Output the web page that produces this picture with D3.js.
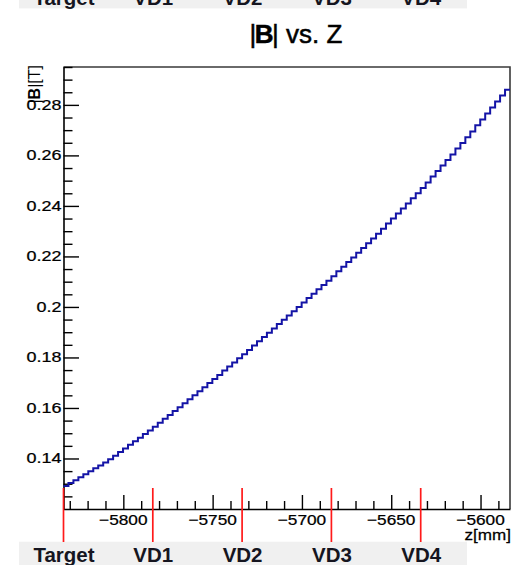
<!DOCTYPE html>
<html>
<head>
<meta charset="utf-8">
<script src="https://cdn.jsdelivr.net/npm/d3@7"></script>
<style>
  body { margin: 0; background: #fff; }
  svg { display: block; }
  text { font-family: "Liberation Sans", Arial, Helvetica, sans-serif; }
</style>
</head>
<body>
<svg id="chart" width="525" height="565"></svg>
<script>
// Field magnitude |B| [T] along z [mm], one value per histogram bin
const zRange = [-5833.5, -5583.5];
const bValues = [
  0.1291, 0.1303, 0.1314, 0.1326, 0.1338, 0.1349, 0.1361, 0.1372, 0.1384, 0.1397,
  0.1411, 0.1426, 0.1440, 0.1454, 0.1468, 0.1482, 0.1497, 0.1511, 0.1526, 0.1541,
  0.1557, 0.1572, 0.1588, 0.1603, 0.1619, 0.1635, 0.1650, 0.1666, 0.1682, 0.1699,
  0.1715, 0.1731, 0.1748, 0.1764, 0.1780, 0.1797, 0.1813, 0.1830, 0.1847, 0.1864,
  0.1881, 0.1898, 0.1915, 0.1932, 0.1949, 0.1966, 0.1983, 0.2000, 0.2018, 0.2035,
  0.2052, 0.2070, 0.2087, 0.2104, 0.2122, 0.2141, 0.2159, 0.2178, 0.2196, 0.2215,
  0.2233, 0.2252, 0.2271, 0.2290, 0.2310, 0.2330, 0.2350, 0.2370, 0.2390, 0.2410,
  0.2430, 0.2450, 0.2471, 0.2493, 0.2516, 0.2538, 0.2560, 0.2582, 0.2604, 0.2627,
  0.2649, 0.2672, 0.2695, 0.2719, 0.2742, 0.2766, 0.2790, 0.2813, 0.2837, 0.2860
];
const yRange = [0.12, 0.295];

// Detector stations marked below the axis
const stationNames = ["Target", "VD1", "VD2", "VD3", "VD4"];
const stationZ = [-5833.5, -5783.5, -5733.5, -5683.5, -5633.5];

// Axis ticks and labels
const xMajorTicks = [-5800, -5750, -5700, -5650, -5600];
const xTickLabels = ["\u22125800", "\u22125750", "\u22125700", "\u22125650", "\u22125600"];
const yMajorTicks = [0.14, 0.16, 0.18, 0.20, 0.22, 0.24, 0.26, 0.28];
const yTickLabels = ["0.14", "0.16", "0.18", "0.2", "0.22", "0.24", "0.26", "0.28"];
const xMinorStep = 10;
const yMinorStep = 0.005;

const svg = d3.select("#chart");
const frame = { left: 63.5, right: 510, top: 67, bottom: 509 };

const x = d3.scaleLinear().domain(zRange).range([frame.left, frame.right]);
const y = d3.scaleLinear().domain(yRange).range([frame.bottom, frame.top]);

// Grey station bands (one at the bottom, its twin cut off at the top edge)
const band = { x: 19, w: 448, h: 24.3 };
const bandTops = [541.7, 541.7 - 557.6];
bandTops.forEach(top => {
  svg.append("rect")
    .attr("x", band.x).attr("y", top)
    .attr("width", band.w).attr("height", band.h)
    .attr("fill", "#f0f0f0");
  svg.append("g").selectAll("text")
    .data(stationNames)
    .join("text")
    .attr("x", (d, i) => x(stationZ[i]) + 0.5)
    .attr("y", top + 20.6)
    .attr("text-anchor", "middle")
    .attr("font-size", 20.5)
    .attr("font-weight", "bold")
    .attr("fill", "#151520")
    .text(d => d);
});

// Title
const title = svg.append("text")
  .attr("x", 296).attr("y", 43)
  .attr("text-anchor", "middle")
  .attr("font-size", 26)
  .attr("fill", "#000")
  .attr("stroke", "#000")
  .attr("stroke-width", 0.5);
title.append("tspan").text("|");
title.append("tspan").attr("dx", -1.5).attr("font-weight", "bold").text("B");
title.append("tspan").attr("dx", -1.5).text("|");
title.append("tspan").text(" vs. Z");

// Frame top / right
svg.append("path")
  .attr("d", `M${frame.left},${frame.top}H${frame.right}V${frame.bottom}`)
  .attr("fill", "none").attr("stroke", "#3a3a3a").attr("stroke-width", 1.6);

// Minor tick values
const xMinor = d3.range(-5830, zRange[1] + 0.01, xMinorStep).filter(v => v % 50 !== 0);
const yMinor = d3.range(0, 36).map(k => +(yRange[0] + k * yMinorStep).toFixed(3))
  .filter(v => v <= yRange[1] && Math.round(v * 1000) % 20 !== 0);

// X axis: ticks point up into the plot
const gx = svg.append("g").attr("transform", `translate(0,${frame.bottom})`);
gx.call(d3.axisBottom(x).tickValues(xMajorTicks).tickSizeInner(-14).tickSizeOuter(0).tickFormat(""));
gx.append("g").call(d3.axisBottom(x).tickValues(xMinor).tickSizeInner(-8).tickSizeOuter(0).tickFormat(""))
  .select(".domain").remove();
gx.selectAll(".domain").attr("stroke", "#000").attr("stroke-width", 1.6);
gx.selectAll(".tick line").attr("stroke", "#000").attr("stroke-width", 1.4);
gx.selectAll(".xlab")
  .data(xMajorTicks)
  .join("text")
  .attr("class", "xlab")
  .attr("transform", d => `translate(${x(d)},16) scale(1.15,1)`)
  .attr("text-anchor", "middle")
  .attr("font-size", 15)
  .attr("fill", "#000")
  .attr("stroke", "#000")
  .attr("stroke-width", 0.25)
  .text((d, i) => xTickLabels[i]);
svg.append("text")
  .attr("transform", `translate(${frame.right + 1},540) scale(1.14,1)`)
  .attr("text-anchor", "end")
  .attr("font-size", 15)
  .attr("fill", "#000")
  .attr("stroke", "#000")
  .attr("stroke-width", 0.25)
  .text("z[mm]");

// Y axis: ticks point right into the plot
const gy = svg.append("g").attr("transform", `translate(${frame.left},0)`);
gy.call(d3.axisLeft(y).tickValues(yMajorTicks).tickSizeInner(-15.5).tickSizeOuter(0).tickFormat(""));
gy.append("g").call(d3.axisLeft(y).tickValues(yMinor).tickSizeInner(-9).tickSizeOuter(0).tickFormat(""))
  .select(".domain").remove();
gy.selectAll(".domain").attr("stroke", "#000").attr("stroke-width", 1.6);
gy.selectAll(".tick line").attr("stroke", "#000").attr("stroke-width", 1.4);
gy.selectAll(".ylab")
  .data(yMajorTicks)
  .join("text")
  .attr("class", "ylab")
  .attr("transform", d => `translate(-2,${y(d) + 5}) scale(1.24,1)`)
  .attr("text-anchor", "end")
  .attr("font-size", 14.5)
  .attr("fill", "#000")
  .attr("stroke", "#000")
  .attr("stroke-width", 0.25)
  .text((d, i) => yTickLabels[i]);

// Y axis title, rotated and pinned to the top of the axis
const yTitle = svg.append("text")
  .attr("transform", `translate(40,65) rotate(-90)`)
  .attr("text-anchor", "end")
  .attr("font-size", 16)
  .attr("fill", "#000");
yTitle.append("tspan").text("|");
yTitle.append("tspan").attr("font-weight", "bold").text("B");
yTitle.append("tspan").text("|[T]");

// Histogram outline as a step line over the bin edges
const nBins = bValues.length;
const binW = (zRange[1] - zRange[0]) / nBins;
const pts = bValues.map((v, i) => [zRange[0] + i * binW, v]);
pts.push([zRange[1], bValues[nBins - 1]]);
const step = d3.line()
  .x(d => x(d[0]))
  .y(d => y(d[1]))
  .curve(d3.curveStepAfter);
svg.append("path")
  .datum(pts)
  .attr("d", step)
  .attr("fill", "none")
  .attr("stroke", "#1414a6")
  .attr("stroke-width", 2);

// Station markers
svg.append("g").selectAll("line")
  .data(stationZ)
  .join("line")
  .attr("x1", d => x(d)).attr("x2", d => x(d))
  .attr("y1", 488).attr("y2", 542)
  .attr("stroke", "#ff1a1a")
  .attr("stroke-width", 1.7);
</script>
</body>
</html>
